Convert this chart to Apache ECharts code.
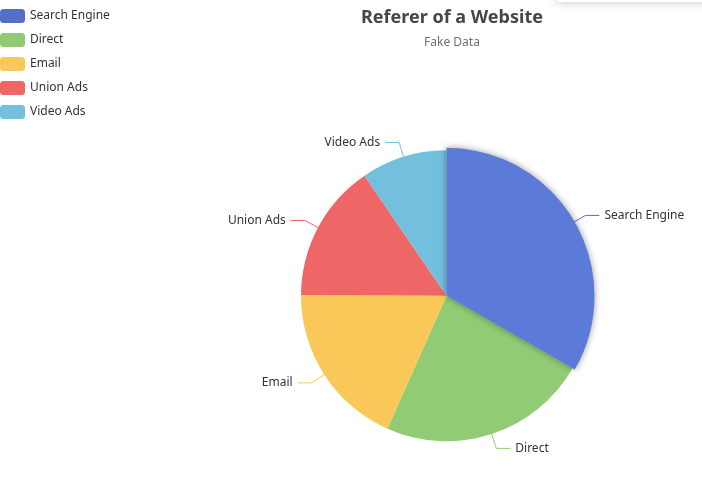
<!DOCTYPE html>
<html><head><meta charset="utf-8">
<style>html,body{margin:0;padding:0;background:#fff}#c{width:702px;height:493px}</style>
<script src="https://cdn.jsdelivr.net/npm/echarts@6/dist/echarts.min.js"></script>
</head><body><div id="c"></div>
<script>
const categories = ['Search Engine', 'Direct', 'Email', 'Union Ads', 'Video Ads'];
const values = [1048, 735, 580, 484, 300];
const colors = ['#5470c6', '#91cc75', '#fac858', '#ee6666', '#73c0de'];

const chart = echarts.init(document.getElementById('c'));
chart.setOption({
  animation: false,
  color: colors,
  textStyle: { fontFamily: '"Noto Sans", sans-serif' },
  title: {
    text: 'Referer of a Website', subtext: 'Fake Data',
    left: 447, textAlign: 'center', top: 4,
    textStyle: { fontSize: 18, fontWeight: 'bold', color: '#464646', fontFamily: '"Noto Sans", sans-serif' },
    subtextStyle: { fontSize: 12, color: '#6E7079' }
  },
  legend: {
    orient: 'vertical', left: -5, top: 4,
    itemWidth: 25, itemHeight: 14, itemGap: 10,
    textStyle: { fontSize: 12, color: '#333' }
  },
  graphic: [{
    type: 'rect', shape: { x: 556, y: -40, width: 160, height: 42, r: 4 },
    style: { fill: '#fff', shadowBlur: 10, shadowColor: 'rgba(0,0,0,0.2)', shadowOffsetY: 1 }
  }],
  series: [{
    type: 'pie', center: [446.5, 295.8], radius: 145.5,
    data: categories.map((n, i) => ({ name: n, value: values[i] })),
    label: { fontSize: 12, color: '#333', overflow: 'none', edgeDistance: 0 },
    labelLine: { length: 15, length2: 14 },
    labelLayout: { hideOverlap: false },
    emphasis: { scaleSize: 2.5, itemStyle: { shadowBlur: 7, shadowOffsetX: 0, shadowColor: 'rgba(0,0,0,0.4)' } }
  }]
});
chart.dispatchAction({ type: 'highlight', seriesIndex: 0, dataIndex: 0 });
</script></body></html>
